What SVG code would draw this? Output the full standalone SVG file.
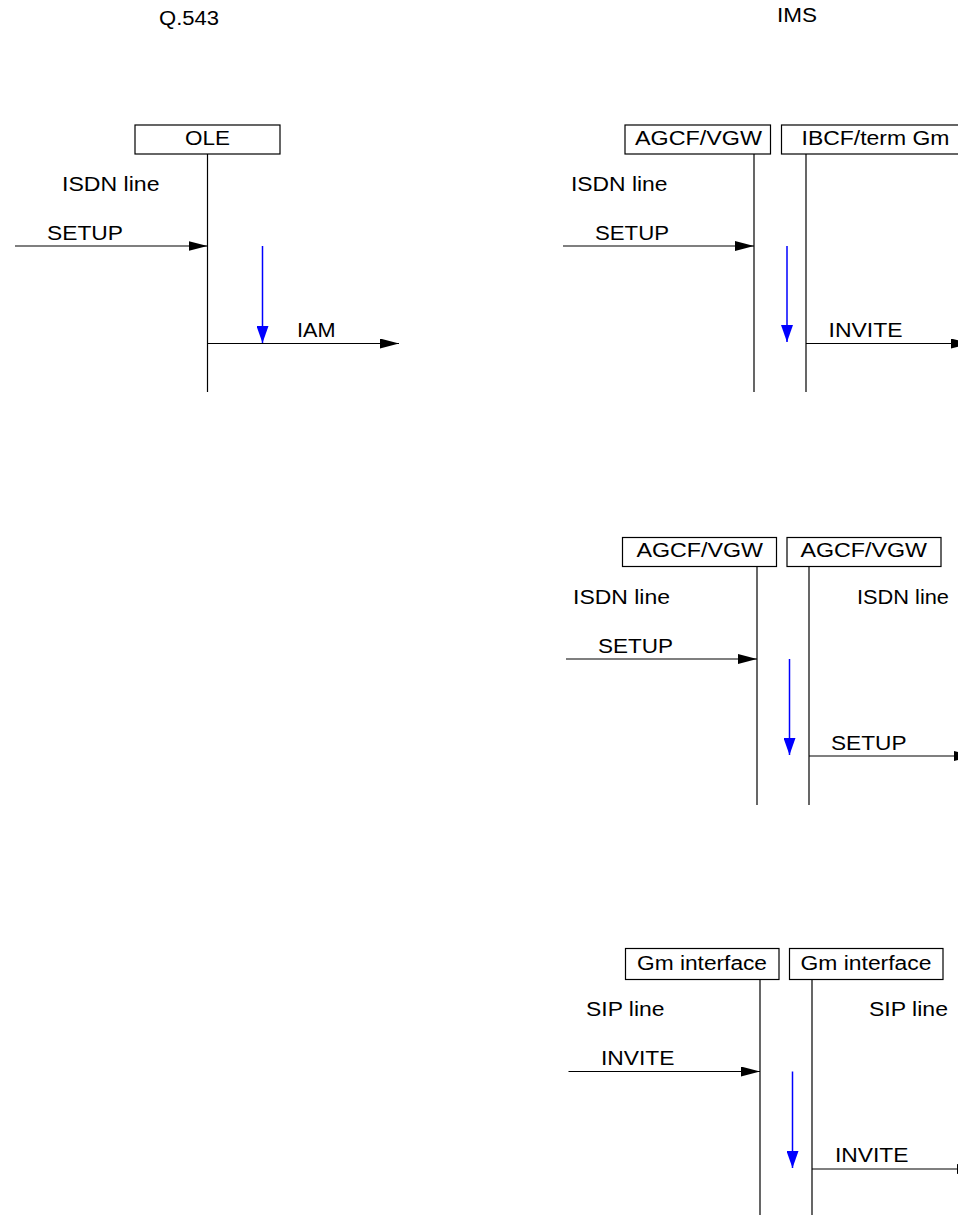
<svg xmlns="http://www.w3.org/2000/svg" width="958" height="1215" viewBox="0 0 958 1215">
<style>
text{font-family:"Liberation Sans",Arial,sans-serif;font-size:20px;fill:#000}
.box{fill:#fff;stroke:#000;stroke-width:1.2}
.life{stroke:#000;stroke-width:1.2;fill:none}
.msg{stroke:#000;stroke-width:1.2;fill:none;marker-end:url(#ah)}
.blue{stroke:#0000ff;stroke-width:1.5;fill:none;marker-end:url(#bh)}
</style>
<defs>
<marker id="ah" markerUnits="userSpaceOnUse" markerWidth="19" markerHeight="10" refX="19" refY="5" orient="auto">
<path d="M0,0 L19,5 L0,10 Z" fill="#000"/>
</marker>
<marker id="bh" markerUnits="userSpaceOnUse" markerWidth="17" markerHeight="12" refX="17" refY="6" orient="auto">
<path d="M0,0 L17,6 L0,12 Z" fill="#0000ff"/>
</marker>
</defs>
<g id="titles">
<text x="159" y="25" textLength="60" lengthAdjust="spacingAndGlyphs">Q.543</text>
<text x="777" y="22" textLength="40" lengthAdjust="spacingAndGlyphs">IMS</text>
</g>
<g id="node-ole">
<rect class="box" x="135" y="125" width="145" height="29"/>
<text x="185" y="145" textLength="45" lengthAdjust="spacingAndGlyphs">OLE</text>
<line class="life" x1="207.5" y1="154" x2="207.5" y2="392"/>
</g>
<g id="node-agcf1">
<rect class="box" x="625" y="125" width="145.5" height="29"/>
<text x="635" y="145" textLength="127" lengthAdjust="spacingAndGlyphs">AGCF/VGW</text>
<line class="life" x1="754" y1="154" x2="754" y2="392"/>
</g>
<g id="node-ibcf">
<rect class="box" x="781.5" y="125" width="200" height="29"/>
<text x="801.5" y="145" textLength="148" lengthAdjust="spacingAndGlyphs">IBCF/term Gm</text>
<line class="life" x1="806" y1="154" x2="806" y2="392"/>
</g>
<g id="node-agcf2a">
<rect class="box" x="622.5" y="537.5" width="154" height="29"/>
<text x="636.5" y="557" textLength="126.5" lengthAdjust="spacingAndGlyphs">AGCF/VGW</text>
<line class="life" x1="757" y1="566.5" x2="757" y2="805"/>
</g>
<g id="node-agcf2b">
<rect class="box" x="787" y="537.5" width="154" height="29"/>
<text x="800.5" y="557" textLength="126.5" lengthAdjust="spacingAndGlyphs">AGCF/VGW</text>
<line class="life" x1="809" y1="566.5" x2="809" y2="805"/>
</g>
<g id="node-gm1">
<rect class="box" x="625.5" y="948.5" width="153.5" height="31"/>
<text x="637" y="970" textLength="130" lengthAdjust="spacingAndGlyphs">Gm interface</text>
<line class="life" x1="760" y1="979.5" x2="760" y2="1215"/>
</g>
<g id="node-gm2">
<rect class="box" x="789.5" y="948.5" width="153.5" height="31"/>
<text x="800.5" y="970" textLength="131" lengthAdjust="spacingAndGlyphs">Gm interface</text>
<line class="life" x1="812" y1="979.5" x2="812" y2="1215"/>
</g>
<g id="labels">
<text x="62" y="191" textLength="97.5" lengthAdjust="spacingAndGlyphs">ISDN line</text>
<text x="571" y="191" textLength="96.5" lengthAdjust="spacingAndGlyphs">ISDN line</text>
<text x="573" y="604" textLength="97" lengthAdjust="spacingAndGlyphs">ISDN line</text>
<text x="857" y="604" textLength="92" lengthAdjust="spacingAndGlyphs">ISDN line</text>
<text x="586" y="1016" textLength="78.5" lengthAdjust="spacingAndGlyphs">SIP line</text>
<text x="869" y="1016" textLength="79" lengthAdjust="spacingAndGlyphs">SIP line</text>
</g>
<g id="connectors">
<line class="msg" x1="15" y1="246" x2="207.5" y2="246"/>
<text x="47" y="240" textLength="76" lengthAdjust="spacingAndGlyphs">SETUP</text>
<line class="blue" x1="262.5" y1="246" x2="262.5" y2="343"/>
<line class="msg" x1="207.5" y1="343.5" x2="399" y2="343.5"/>
<text x="297" y="337" textLength="38.5" lengthAdjust="spacingAndGlyphs">IAM</text>

<line class="msg" x1="563" y1="246" x2="754" y2="246"/>
<text x="595" y="240" textLength="74" lengthAdjust="spacingAndGlyphs">SETUP</text>
<line class="blue" x1="787" y1="246" x2="787" y2="342"/>
<line class="msg" x1="806" y1="343.5" x2="970" y2="343.5"/>
<text x="828.5" y="337" textLength="74" lengthAdjust="spacingAndGlyphs">INVITE</text>

<line class="msg" x1="566" y1="659" x2="757" y2="659"/>
<text x="598" y="653" textLength="75" lengthAdjust="spacingAndGlyphs">SETUP</text>
<line class="blue" x1="789.5" y1="659" x2="789.5" y2="755"/>
<line class="msg" x1="809" y1="756" x2="973" y2="756"/>
<text x="831" y="750" textLength="75.5" lengthAdjust="spacingAndGlyphs">SETUP</text>

<line class="msg" x1="568.5" y1="1071.5" x2="760" y2="1071.5"/>
<text x="601" y="1065" textLength="73.5" lengthAdjust="spacingAndGlyphs">INVITE</text>
<line class="blue" x1="792.5" y1="1071.5" x2="792.5" y2="1168"/>
<line class="msg" x1="812" y1="1169" x2="976" y2="1169"/>
<text x="835" y="1162" textLength="73.5" lengthAdjust="spacingAndGlyphs">INVITE</text>
</g>
</svg>
